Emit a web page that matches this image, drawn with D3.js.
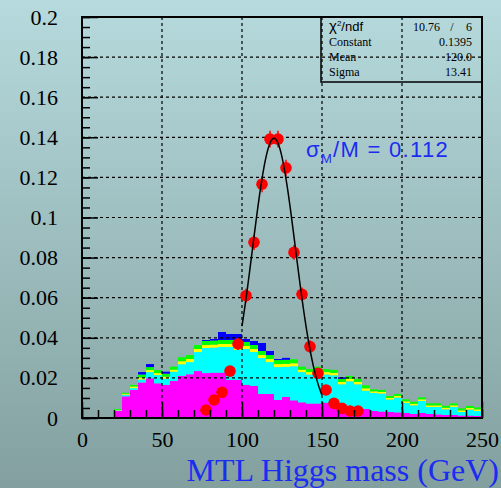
<!DOCTYPE html>
<html>
<head>
<meta charset="utf-8">
<script src="https://cdn.jsdelivr.net/npm/d3@7"></script>
<style>
  html, body { margin: 0; padding: 0; overflow: hidden; }
  svg { display: block; }
</style>
</head>
<body>
<div id="chart"></div>
<script>
const W = 501, H = 488;

// stacked background histograms, 5 GeV bins starting at 20 GeV
const binStarts = [20,25,30,35,40,45,50,55,60,65,70,75,80,85,90,95,100,105,110,115,120,125,130,135,140,145,150,155,160,165,170,175,180,185,190,195,200,205,210,215,220,225,230,235,240,245];
const binWidth = 5;
const redBkg = [0,0,0,0,0,0,0,0,0.0005,0.0005,0.0005,0.0005,0.0005,0.0005,0.0005,0.0005,0.0005,0.0005,0.0005,0.0005,0.0005,0.0005,0.0005,0.0005,0.0005,0.0005,0.0005,0.0005,0.0005,0.0005,0.0005,0.0005,0.0005,0.0005,0.0005,0.0005,0.0005,0.0005,0.0005,0.0005,0.0005,0.0005,0.0005,0.0005,0.0005,0.0005];
const magentaBkg = [0.0035,0.0108,0.014,0.0177,0.0198,0.0173,0.0165,0.0185,0.0205,0.0213,0.0229,0.0219,0.0221,0.0221,0.0185,0.0185,0.016,0.0155,0.0115,0.0115,0.0085,0.01,0.0083,0.0073,0.0067,0.0067,0.0071,0.0071,0.0043,0.0043,0.0035,0.004,0.003,0.0027,0.0025,0.0023,0.002,0.0015,0.002,0.0015,0.0013,0.001,0.001,0.0007,0.0007,0.0005];
const cyanBkg = [0.0003,0.0008,0.0009,0.0015,0.0031,0.0041,0.0031,0.0046,0.0058,0.0061,0.0095,0.0125,0.0125,0.0128,0.0164,0.0149,0.0179,0.0169,0.0179,0.0159,0.0164,0.015,0.017,0.0151,0.0145,0.0157,0.0141,0.0137,0.012,0.0135,0.0128,0.0091,0.009,0.009,0.0062,0.0074,0.005,0.0043,0.006,0.0035,0.0037,0.0028,0.004,0.0018,0.003,0.0025];
const yellowBkg = [0.0003,0.0005,0.0008,0.001,0.001,0.001,0.001,0.001,0.0015,0.0015,0.0015,0.0015,0.0015,0.0015,0.0015,0.0015,0.0015,0.0015,0.0015,0.0015,0.0015,0.0015,0.0015,0.0012,0.0012,0.0012,0.0012,0.0012,0.0012,0.0012,0.0012,0.0012,0.0008,0.0008,0.0008,0.0008,0.0008,0.0008,0.0008,0.0008,0.0008,0.0008,0.0008,0.0008,0.0008,0.0008];
const greenBkg = [0.0004,0.0005,0.0008,0.0015,0.0015,0.0015,0.0015,0.0015,0.002,0.002,0.002,0.002,0.002,0.002,0.002,0.002,0.002,0.002,0.002,0.002,0.002,0.002,0.002,0.0015,0.0015,0.0015,0.0015,0.0015,0.0015,0.0015,0.0015,0.0015,0.001,0.001,0.001,0.001,0.001,0.001,0.001,0.001,0.001,0.001,0.001,0.001,0.001,0.001];
const blueBkg = [0,0,0,0.0012,0.0015,0,0.001,0,0,0,0,0.0005,0.0008,0.004,0.003,0.0045,0.0015,0.002,0.004,0.002,0.0005,0.001,0,0,0,0,0,0,0.0008,0,0,0,0,0,0,0,0,0,0,0,0,0,0,0,0,0];

// signal points (bin centres) with small errors
const sigX = [77.5,82.5,87.5,92.5,97.5,102.5,107.5,112.5,117.5,122.5,127.5,132.5,137.5,142.5,147.5,152.5,157.5,162.5,167.5,172.5];
const sigY = [0.004,0.009,0.0128,0.0234,0.0369,0.061,0.0876,0.1166,0.1391,0.1391,0.1248,0.0826,0.0617,0.0356,0.0223,0.014,0.0073,0.0048,0.0035,0.0035];
const sigErr = [0.001,0.0015,0.0018,0.0025,0.003,0.0035,0.0038,0.004,0.0042,0.0042,0.004,0.0037,0.0034,0.003,0.0025,0.0018,0.0014,0.0012,0.001,0.001];

// gaussian fit result
const fitConstant = 0.1395, fitMean = 120.0, fitSigma = 13.41;
const fitRange = [100, 150];

const statsLabels = ["Constant", "Mean", "Sigma"];
const statsValues = ["0.1395", "120.0", "13.41"];
const chi2Value = "10.76", ndfValue = "6";

const xTicks = [0, 50, 100, 150, 200, 250];
const xTickLabels = ["0", "50", "100", "150", "200", "250"];
const yTicks = [0, 0.02, 0.04, 0.06, 0.08, 0.1, 0.12, 0.14, 0.16, 0.18, 0.2];
const yTickLabels = ["0", "0.02", "0.04", "0.06", "0.08", "0.1", "0.12", "0.14", "0.16", "0.18", "0.2"];

const layerKeys = ["red", "magenta", "cyan", "yellow", "green", "blue"];
const layerColors = { red: "#ff0000", magenta: "#ff00ff", cyan: "#00ffff", yellow: "#ffff00", green: "#00ff00", blue: "#0000ff" };

const frame = { left: 82, top: 17, right: 482, bottom: 418 };

const x = d3.scaleLinear().domain([0, 250]).range([frame.left, frame.right]);
const y = d3.scaleLinear().domain([0, 0.2]).range([frame.bottom, frame.top]);

const svg = d3.select("#chart").append("svg")
  .attr("width", W)
  .attr("height", H);

const grad = svg.append("defs").append("linearGradient")
  .attr("id", "bg").attr("x1", 0).attr("y1", 0).attr("x2", 0).attr("y2", 1);
grad.append("stop").attr("offset", 0).attr("stop-color", "#b6dadd");
grad.append("stop").attr("offset", 1).attr("stop-color", "#83a09f");

svg.append("rect").attr("width", W).attr("height", H).attr("fill", "url(#bg)");

// histogram stack
const rows = binStarts.map((b, i) => ({
  x0: b,
  red: redBkg[i], magenta: magentaBkg[i], cyan: cyanBkg[i],
  yellow: yellowBkg[i], green: greenBkg[i], blue: blueBkg[i],
}));
const stacked = d3.stack().keys(layerKeys)(rows);

svg.append("g").selectAll("g")
  .data(stacked)
  .enter().append("g")
  .attr("fill", d => layerColors[d.key])
  .selectAll("rect")
  .data(d => d)
  .enter().append("rect")
  .attr("x", d => x(d.data.x0))
  .attr("width", d => x(d.data.x0 + binWidth) - x(d.data.x0))
  .attr("y", d => y(d[1]))
  .attr("height", d => y(d[0]) - y(d[1]));

// grid
const grid = svg.append("g")
  .attr("stroke", "#000")
  .attr("stroke-width", 1.2)
  .attr("stroke-dasharray", "3,3");
grid.selectAll("line.v")
  .data(xTicks.slice(1, -1))
  .enter().append("line")
  .attr("x1", d => x(d)).attr("x2", d => x(d))
  .attr("y1", frame.top).attr("y2", frame.bottom);
grid.selectAll("line.h")
  .data(yTicks.slice(1, -1))
  .enter().append("line")
  .attr("x1", frame.left).attr("x2", frame.right)
  .attr("y1", d => y(d)).attr("y2", d => y(d));

// signal points
const pts = svg.append("g");
pts.selectAll("line")
  .data(sigX)
  .enter().append("line")
  .attr("x1", d => x(d)).attr("x2", d => x(d))
  .attr("y1", (d, i) => y(sigY[i] - sigErr[i]))
  .attr("y2", (d, i) => y(sigY[i] + sigErr[i]))
  .attr("stroke", "#ff0000")
  .attr("stroke-width", 1.5);
pts.selectAll("circle")
  .data(sigX)
  .enter().append("circle")
  .attr("cx", d => x(d))
  .attr("cy", (d, i) => y(sigY[i]))
  .attr("r", 5.8)
  .attr("fill", "#ff0000");

// fit curve
const gauss = v => fitConstant * Math.exp(-0.5 * Math.pow((v - fitMean) / fitSigma, 2));
const fitLine = d3.line().x(d => x(d)).y(d => y(gauss(d)));
svg.append("path")
  .attr("d", fitLine(d3.range(fitRange[0], fitRange[1] + 0.01, 0.5)))
  .attr("fill", "none")
  .attr("stroke", "#000")
  .attr("stroke-width", 1.5);

// axes
const tickFont = "'Liberation Serif', 'Times New Roman', serif";
svg.append("g")
  .attr("transform", `translate(${frame.left},0)`)
  .call(d3.axisLeft(y).tickValues(yTicks).tickFormat((d, i) => yTickLabels[i]).tickSize(-16).tickPadding(24));
svg.append("g")
  .attr("transform", `translate(${frame.left},0)`)
  .call(d3.axisLeft(y).tickValues(d3.range(0, 41).map(k => k * 0.005)).tickFormat("").tickSize(-8));
svg.append("g")
  .attr("transform", `translate(0,${frame.bottom})`)
  .call(d3.axisBottom(x).tickValues(xTicks).tickFormat((d, i) => xTickLabels[i]).tickSize(-16).tickPadding(13));
svg.append("g")
  .attr("transform", `translate(0,${frame.bottom})`)
  .call(d3.axisBottom(x).tickValues(d3.range(0, 26).map(k => k * 10)).tickFormat("").tickSize(-8));

svg.selectAll(".domain").remove();
svg.selectAll(".tick line").attr("stroke", "#000").attr("stroke-width", 1.5);
svg.selectAll(".tick text")
  .attr("fill", "#000")
  .style("font-family", tickFont)
  .style("font-size", "22px");

// red baseline along the bottom
svg.append("line")
  .attr("x1", frame.left).attr("x2", frame.right)
  .attr("y1", frame.bottom - 0.5).attr("y2", frame.bottom - 0.5)
  .attr("stroke", "#ff0000").attr("stroke-width", 1);

svg.append("rect")
  .attr("x", frame.left).attr("y", frame.top)
  .attr("width", frame.right - frame.left).attr("height", frame.bottom - frame.top)
  .attr("fill", "none").attr("stroke", "#000").attr("stroke-width", 2);

// stats box
const box = svg.append("g");
box.append("rect")
  .attr("x", 321).attr("y", frame.top)
  .attr("width", frame.right - 321).attr("height", 65)
  .attr("fill", "none").attr("stroke", "#000").attr("stroke-width", 1.5);
const chi = box.append("text")
  .attr("x", 329).attr("y", 31)
  .style("font-family", "'Liberation Sans', Arial, sans-serif")
  .style("font-size", "13px");
chi.append("tspan").text("χ").style("font-size", "15px");
chi.append("tspan").text("2").attr("dy", -5).style("font-size", "8px");
chi.append("tspan").text("/ndf").attr("dy", 5);
box.append("text").attr("x", 440).attr("y", 31).attr("text-anchor", "end")
  .style("font-family", tickFont).style("font-size", "12px").text(chi2Value);
box.append("text").attr("x", 452).attr("y", 31).attr("text-anchor", "middle")
  .style("font-family", tickFont).style("font-size", "12px").text("/");
box.append("text").attr("x", 472).attr("y", 31).attr("text-anchor", "end")
  .style("font-family", tickFont).style("font-size", "12px").text(ndfValue);
box.selectAll("text.lab")
  .data(statsLabels)
  .enter().append("text")
  .attr("x", 329).attr("y", (d, i) => 45.5 + i * 15)
  .style("font-family", tickFont).style("font-size", "12px")
  .text(d => d);
box.selectAll("text.val")
  .data(statsValues)
  .enter().append("text")
  .attr("x", 472).attr("y", (d, i) => 45.5 + i * 15)
  .attr("text-anchor", "end")
  .style("font-family", tickFont).style("font-size", "12px")
  .text(d => d);

// resolution label
const res = svg.append("text")
  .attr("x", 306).attr("y", 157)
  .attr("fill", "#1c2cf0")
  .style("font-family", "'Liberation Sans', Arial, sans-serif")
  .style("font-size", "22px")
  .style("letter-spacing", "1.3px");
res.append("tspan").text("σ");
res.append("tspan").text("M").attr("dy", 6).style("font-size", "13px");
res.append("tspan").text("/M = 0.112").attr("dy", -6);

// x title
svg.append("text")
  .attr("x", 499).attr("y", 481)
  .attr("text-anchor", "end")
  .attr("fill", "#1c2cf0")
  .style("font-family", tickFont)
  .style("font-size", "32px")
  .text("MTL Higgs mass (GeV)");
</script>
</body>
</html>
